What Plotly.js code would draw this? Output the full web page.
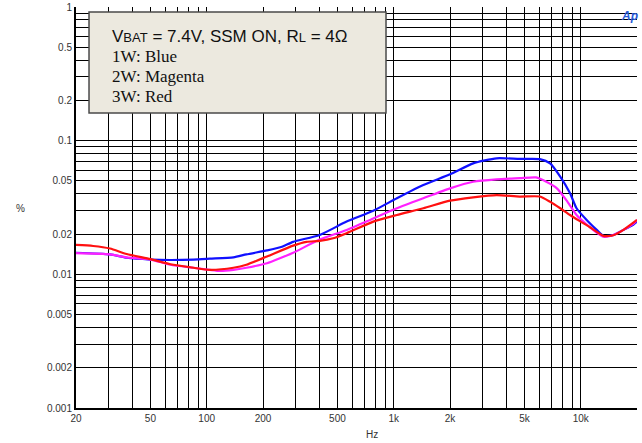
<!DOCTYPE html>
<html>
<head>
<meta charset="utf-8">
<script src="https://cdn.plot.ly/plotly-3.0.1.min.js"></script>
<style>html,body{margin:0;padding:0;background:#fff;}#chart{width:642px;height:443px;}</style>
</head>
<body>
<div id="chart"></div>
<script>
// Frequencies (Hz) and THD+N (%) per series
var blueFreq = [20, 30.4, 37.3, 50, 64, 85, 104, 139, 163, 210, 250, 290, 402, 560, 778, 1040, 1440, 2000, 2660, 3550, 4720, 6050, 6860, 7770, 8770, 9500, 10760, 12180, 13220, 14960, 16930, 19140, 20000];
var blueVal  = [0.0145, 0.0141, 0.0133, 0.0129, 0.0128, 0.0129, 0.0131, 0.0134, 0.0141, 0.0151, 0.0160, 0.0175, 0.0197, 0.0248, 0.0299, 0.0371, 0.0466, 0.0560, 0.0676, 0.0738, 0.0730, 0.0728, 0.0676, 0.0538, 0.0404, 0.0312, 0.0255, 0.0215, 0.0194, 0.0197, 0.0215, 0.0236, 0.0248];

var magentaFreq = [20, 30.4, 37.3, 50, 64, 85, 104, 118, 139, 163, 210, 250, 290, 402, 560, 778, 1040, 1440, 2000, 2660, 3550, 4720, 5770, 6550, 7460, 8500, 9500, 10760, 12180, 13220, 14960, 16930, 19140, 20000];
var magentaVal  = [0.0144, 0.0141, 0.0134, 0.0129, 0.0118, 0.0112, 0.0108, 0.0106, 0.0108, 0.0112, 0.0121, 0.0133, 0.0145, 0.0182, 0.0215, 0.0262, 0.0312, 0.0371, 0.0440, 0.0493, 0.0514, 0.0524, 0.0531, 0.0493, 0.0440, 0.0349, 0.0278, 0.0236, 0.0205, 0.0191, 0.0197, 0.0215, 0.0239, 0.0255];

var redFreq = [20, 24.7, 30.4, 37.3, 50, 64, 85, 104, 139, 163, 210, 290, 342, 402, 474, 560, 778, 1040, 1440, 2000, 2660, 3550, 4720, 6050, 6860, 7770, 8770, 9850, 11150, 13220, 14960, 16930, 20000];
var redVal  = [0.0166, 0.0163, 0.0156, 0.0142, 0.0130, 0.0119, 0.0112, 0.0108, 0.0112, 0.0118, 0.0136, 0.0164, 0.0175, 0.0178, 0.0186, 0.0203, 0.0248, 0.0278, 0.0312, 0.0356, 0.0377, 0.0392, 0.0382, 0.0382, 0.0349, 0.0312, 0.0278, 0.0251, 0.0226, 0.0194, 0.0196, 0.0215, 0.0255];

var xTickVals = [20, 50, 100, 200, 500, 1000, 2000, 5000, 10000, 20000];
var xTickText = ['20', '50', '100', '200', '500', '1k', '2k', '5k', '10k', '20k'];
var yTickVals = [0.001, 0.002, 0.005, 0.01, 0.02, 0.05, 0.1, 0.2, 0.5, 1];
var yTickText = ['0.001', '0.002', '0.005', '0.01', '0.02', '0.05', '0.1', '0.2', '0.5', '1'];

var legendLines = [
  'V<span style="font-size:13px">BAT</span> = 7.4V, SSM ON, R<span style="font-size:13px">L</span> = 4Ω',
  '1W: Blue',
  '2W: Magenta',
  '3W: Red'
];

var traces = [
  {x: blueFreq, y: blueVal, type: 'scatter', mode: 'lines', line: {color: '#1010ff', width: 2.2, shape: 'spline', smoothing: 0.6}},
  {x: magentaFreq, y: magentaVal, type: 'scatter', mode: 'lines', line: {color: '#ff20ff', width: 2.2, shape: 'spline', smoothing: 0.6}},
  {x: redFreq, y: redVal, type: 'scatter', mode: 'lines', line: {color: '#ff1010', width: 2.2, shape: 'spline', smoothing: 0.6}}
];

var tickFont = {family: 'Liberation Sans, Arial, sans-serif', size: 10, color: '#333'};
var gridCol = '#000000';

var layout = {
  width: 642, height: 443,
  margin: {l: 76, r: 5, t: 7, b: 35},
  paper_bgcolor: '#ffffff', plot_bgcolor: '#ffffff',
  showlegend: false,
  xaxis: {
    type: 'log', range: [Math.log10(20), Math.log10(20000)],
    tickmode: 'array', tickvals: xTickVals, ticktext: xTickText,
    tickfont: tickFont, ticks: '',
    showgrid: true, gridcolor: gridCol, gridwidth: 1,
    minor: {dtick: 'D1', showgrid: true, gridcolor: gridCol, gridwidth: 1, ticks: ''},
    showline: true, linecolor: '#000', linewidth: 2, mirror: false,
    zeroline: false
  },
  yaxis: {
    type: 'log', range: [-3, 0],
    tickmode: 'array', tickvals: yTickVals, ticktext: yTickText,
    tickfont: tickFont, ticks: '',
    showgrid: true, gridcolor: gridCol, gridwidth: 1,
    minor: {dtick: 'D1', showgrid: true, gridcolor: gridCol, gridwidth: 1, ticks: ''},
    showline: true, linecolor: '#000', linewidth: 2, mirror: false,
    zeroline: false
  },
  shapes: [
    {type: 'rect', xref: 'paper', yref: 'paper', x0: 0.0232, x1: 0.5526, y0: 0.7357, y1: 0.9875,
     fillcolor: '#ece9df', line: {color: '#4a4a4a', width: 1.5}, layer: 'above'}
  ],
  annotations: [
    {xref: 'paper', yref: 'paper', x: 0.0606, y: (408 - 36) / 401, xanchor: 'left', yanchor: 'middle', showarrow: false,
     text: legendLines[0], font: {family: 'Liberation Sans, Arial, sans-serif', size: 17, color: '#111'}},
    {xref: 'paper', yref: 'paper', x: 0.0606, y: (408 - 56) / 401, xanchor: 'left', yanchor: 'middle', showarrow: false,
     text: legendLines[1], font: {family: 'Liberation Serif, Times New Roman, serif', size: 17, color: '#111'}},
    {xref: 'paper', yref: 'paper', x: 0.0606, y: (408 - 76) / 401, xanchor: 'left', yanchor: 'middle', showarrow: false,
     text: legendLines[2], font: {family: 'Liberation Serif, Times New Roman, serif', size: 17, color: '#111'}},
    {xref: 'paper', yref: 'paper', x: 0.0606, y: (408 - 96) / 401, xanchor: 'left', yanchor: 'middle', showarrow: false,
     text: legendLines[3], font: {family: 'Liberation Serif, Times New Roman, serif', size: 17, color: '#111'}},
    {xref: 'paper', yref: 'paper', x: (20 - 76) / 561, y: (408 - 209) / 401, xanchor: 'center', yanchor: 'middle', showarrow: false,
     text: '%', font: {family: 'Liberation Sans, Arial, sans-serif', size: 10, color: '#333'}},
    {xref: 'paper', yref: 'paper', x: (372 - 76) / 561, y: (408 - 434) / 401, xanchor: 'center', yanchor: 'middle', showarrow: false,
     text: 'Hz', font: {family: 'Liberation Sans, Arial, sans-serif', size: 10, color: '#333'}},
    {xref: 'paper', yref: 'paper', x: (629 - 76) / 561, y: (408 - 16) / 401, xanchor: 'center', yanchor: 'middle', showarrow: false,
     text: '<i><b>Ap</b></i>', font: {family: 'Liberation Sans, Arial, sans-serif', size: 12, color: '#2a5bd7'}}
  ]
};

Plotly.newPlot('chart', traces, layout, {staticPlot: true, displayModeBar: false});
</script>
</body>
</html>
